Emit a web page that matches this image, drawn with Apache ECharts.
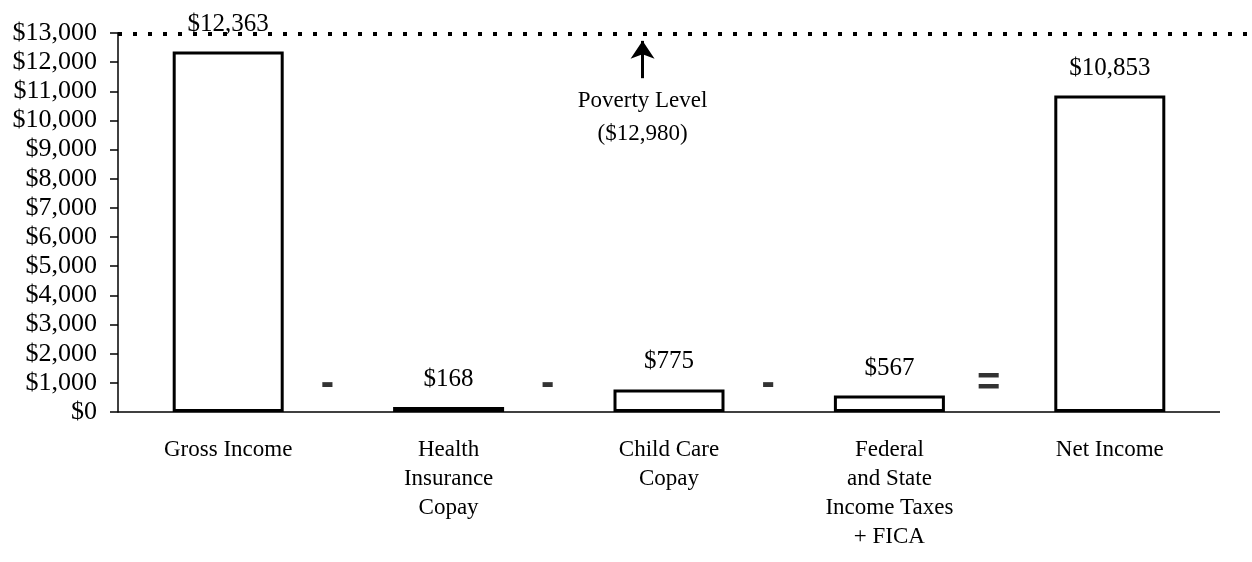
<!DOCTYPE html>
<html>
<head>
<meta charset="utf-8">
<script src="https://cdn.jsdelivr.net/npm/echarts@6/dist/echarts.min.js"></script>
<style>
html,body{margin:0;padding:0;background:#fff;}
#chart{width:1252px;height:562px;}
</style>
</head>
<body>
<div id="chart"></div>
<script>
// ---- data ----
const categories = ['Gross Income', 'Health\nInsurance\nCopay', 'Child Care\nCopay', 'Federal\nand State\nIncome Taxes\n+ FICA', 'Net Income'];
const values = [12363, 168, 775, 567, 10853];
const operators = ['-', '-', '-', '='];
const povertyLevel = 12980;
const povertyText = 'Poverty Level\n($12,980)';
const yTicks = [0, 13000, 1000];

// ---- layout constants ----
const FONT = '"Liberation Serif", "Times New Roman", serif';
const fmt = v => '$' + Number(v).toLocaleString('en-US');

const chart = echarts.init(document.getElementById('chart'));
chart.setOption({
  backgroundColor: '#fff',
  animation: false,
  grid: { left: 118, right: 0, top: 33, bottom: 150, containLabel: false },
  xAxis: {
    type: 'value',
    min: -0.5,
    max: 4.5 + 32 / 220.4,
    axisLine: { show: false, onZero: false },
    axisTick: { show: false },
    splitLine: { show: false },
    axisLabel: {
      customValues: categories.map((c, i) => i),
      formatter: v => categories[Math.round(v)] || '',
      fontFamily: FONT, fontSize: 23, lineHeight: 29, color: '#000', margin: 23
    }
  },
  yAxis: {
    type: 'value',
    min: yTicks[0], max: yTicks[1], interval: yTicks[2],
    axisLine: { show: true, onZero: false, lineStyle: { color: '#000', width: 1.5 } },
    axisTick: { show: true, length: 8, lineStyle: { color: '#000', width: 1.5 } },
    splitLine: { show: false },
    axisLabel: { formatter: fmt, fontFamily: FONT, fontSize: 26, color: '#000', margin: 21 }
  },
  series: [
    {
      type: 'bar',
      data: values.map((v, i) => [i, v]),
      barWidth: 111,
      itemStyle: { color: '#fff', borderColor: '#000', borderWidth: 3 },
      labelLine: { show: false },
      labelLayout: { hideOverlap: false },
      label: {
        show: true, position: 'top', distance: 15,
        formatter: p => fmt(p.value[1]),
        fontFamily: FONT, fontSize: 25, color: '#000'
      }
    },
    {
      type: 'scatter',
      data: operators.map((o, i) => [i + 0.45, 950]),
      symbolSize: 0,
      label: {
        show: true, position: 'inside',
        formatter: p => operators[p.dataIndex],
        fontFamily: '"Liberation Sans", Arial, sans-serif', fontWeight: 'bold',
        fontSize: 40, color: '#000'
      },
      markLine: {
        silent: true,
        symbol: 'none',
        label: { show: false },
        lineStyle: { color: '#000', width: 4, type: [4, 11] },
        data: [{ yAxis: povertyLevel }]
      }
    },
    {
      type: 'line',
      data: [],
      markLine: {
        silent: true,
        symbol: ['none', 'arrow'],
        symbolSize: [18, 18],
        lineStyle: { color: '#000', width: 3, type: 'solid' },
        label: {
          show: true, position: 'start', distance: 6,
          formatter: povertyText,
          fontFamily: FONT, fontSize: 23, lineHeight: 33, color: '#000'
        },
        data: [[{ coord: [1.88, 11450] }, { coord: [1.88, povertyLevel - 250] }]]
      }
    },
    {
      type: 'line',
      data: [],
      markLine: {
        silent: true,
        symbol: 'none',
        label: { show: false },
        lineStyle: { color: '#000', width: 1.5, type: 'solid' },
        data: [[{ coord: [-0.5, 0] }, { coord: [4.5, 0] }]]
      }
    }
  ]
});
</script>
</body>
</html>
